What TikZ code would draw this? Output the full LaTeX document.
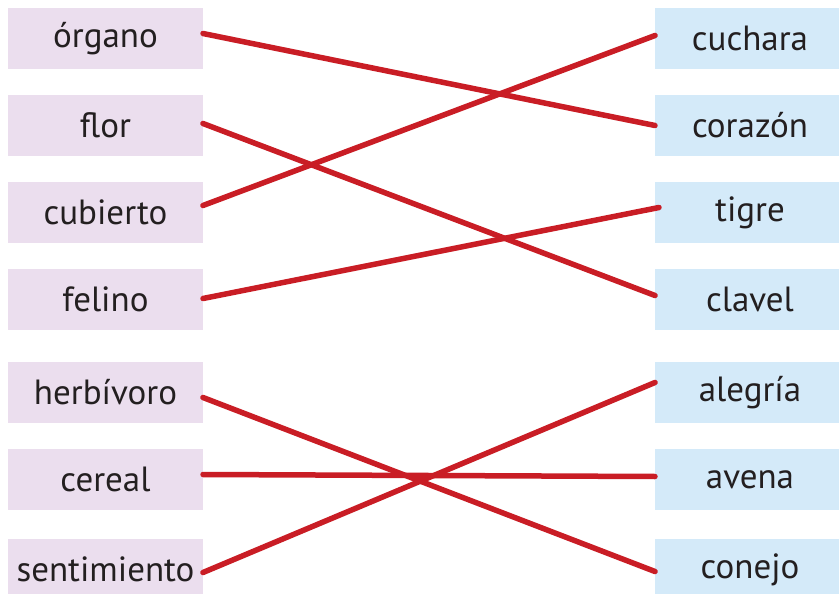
\documentclass[tikz,border=0pt]{standalone}
\usepackage{fontspec}
\setmainfont{PT Sans}
\usetikzlibrary{positioning}

\definecolor{wordpink}{HTML}{EBDEEE}
\definecolor{wordblue}{HTML}{D4EAF9}
\definecolor{matchred}{HTML}{C91D25}
\definecolor{wordink}{HTML}{231F20}

\begin{document}
\begin{tikzpicture}[
            x=1pt, y=1pt,
            word/.style={rectangle, minimum height=61pt, inner sep=0pt, outer sep=0pt,
                text=wordink, font=\fontsize{35}{40}\selectfont},
            leftword/.style={word, fill=wordpink, minimum width=195pt},
            rightword/.style={word, fill=wordblue, minimum width=190pt, text width=184pt, align=center},
            match/.style={draw=matchred, line width=5.5pt, line cap=round},
            node distance=26pt
        ]
            \useasboundingbox (0,0) rectangle (839,-594);

            % Left column
            \node[leftword] (organo) at (105.5,-38.5) {órgano};
            \node[leftword, below=of organo] (flor) {flor};
            \node[leftword, below=of flor] (cubierto) {cubierto};
            \node[leftword, below=of cubierto] (felino) {felino};
            \node[leftword, below=32pt of felino] (herbivoro) {herbívoro};
            \node[leftword, below=of herbivoro] (cereal) {cereal};
            \node[leftword, below=29pt of cereal] (sentimiento) {sentimiento};

            % Right column
            \node[rightword, right=452pt of organo] (cuchara) {cuchara};
            \node[rightword, right=452pt of flor] (corazon) {corazón};
            \node[rightword, right=452pt of cubierto] (tigre) {tigre};
            \node[rightword, right=452pt of felino] (clavel) {clavel};
            \node[rightword, right=452pt of herbivoro] (alegria) {alegría};
            \node[rightword, right=452pt of cereal] (avena) {avena};
            \node[rightword, right=452pt of sentimiento] (conejo) {conejo};

            % Matching lines
            \draw[match] ([yshift=5pt]organo.east) -- (corazon.west);
            \draw[match] ([yshift=2pt]flor.east) -- ([yshift=4pt]clavel.west);
            \draw[match] ([yshift=7pt]cubierto.east) -- ([yshift=3pt]cuchara.west);
            \draw[match] ([yshift=1pt]felino.east) -- ([xshift=4pt, yshift=5pt]tigre.west);
            \draw[match] ([yshift=-5pt]herbivoro.east) -- ([yshift=-2pt]conejo.west);
            \draw[match] ([yshift=5pt]cereal.east) -- ([yshift=3pt]avena.west);
            \draw[match] ([yshift=-3pt]sentimiento.east) -- ([yshift=10pt]alegria.west);
\end{tikzpicture}
\end{document}
